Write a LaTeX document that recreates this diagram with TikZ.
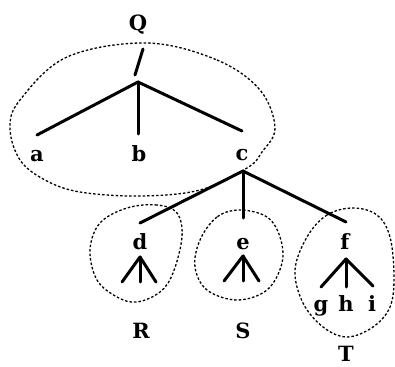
\documentclass[tikz,border=0pt]{standalone}
\usepackage{fontspec}
\newfontfamily\lblfamily{DejaVu Serif}
\begin{document}
\begin{tikzpicture}[x=1pt,y=-1pt,
  lbl/.style={font=\lblfamily\bfseries\fontsize{21}{21}\selectfont, inner sep=0pt, anchor=base},
  edge/.style={line width=3pt, line cap=round},
  blob/.style={line width=1.3pt, dash pattern=on 2.5pt off 2pt}]
\useasboundingbox (0,0) rectangle (395,366);
% labels
\node[lbl] (Q) at (138,31) {Q};
\node[lbl] (a) at (37,161) {a};
\node[lbl] (b) at (139,161) {b};
\node[lbl] (c) at (242,160) {c};
\node[lbl] (d) at (140,249) {d};
\node[lbl] (e) at (243,249) {e};
\node[lbl] (f) at (345,249) {f};
\node[lbl] (g) at (321,311) {g};
\node[lbl] (h) at (346,311) {h};
\node[lbl] (i) at (372,311) {i};
\node[lbl] (R) at (141,338) {R};
\node[lbl] (S) at (243,338) {S};
\node[lbl] (T) at (346,361) {T};
% coordinates
\coordinate (q1) at (143,49);
\coordinate (q2) at (135,75);
\coordinate (r0) at (138,82);
\coordinate (ea) at (37,135);
\coordinate (eb) at (138,134);
\coordinate (ec) at (242,131);
\coordinate (c0) at (243,171);
\coordinate (ed) at (140,223);
\coordinate (ee) at (243,218);
\coordinate (ef) at (346,222);
\coordinate (d0) at (140,257);
\coordinate (d1) at (122,282);
\coordinate (d2) at (140,282);
\coordinate (d3) at (156,282);
\coordinate (e0) at (243,256);
\coordinate (e1) at (224,281);
\coordinate (e2) at (243,281);
\coordinate (e3) at (259,281);
\coordinate (f0) at (346,259);
\coordinate (f1) at (321,287);
\coordinate (f2) at (346,287);
\coordinate (f3) at (373,286);
% edges
\draw[edge] (q1) -- (q2);
\draw[edge] (r0) -- (ea);
\draw[edge] (r0) -- (eb);
\draw[edge] (r0) -- (ec);
\draw[edge] (c0) -- (ed);
\draw[edge] (c0) -- (ee);
\draw[edge] (c0) -- (ef);
\draw[edge] (d0) -- (d1);
\draw[edge] (d0) -- (d2);
\draw[edge] (d0) -- (d3);
\draw[edge] (e0) -- (e1);
\draw[edge] (e0) -- (e2);
\draw[edge] (e0) -- (e3);
\draw[edge] (f0) -- (f1);
\draw[edge] (f0) -- (f2);
\draw[edge] (f0) -- (f3);
% dotted regions
\draw[blob] plot[smooth cycle, tension=0.6] coordinates {(147,43) (217,60) (260,90) (275,128) (262,152) (247,168) (200,190) (140,196) (80,192) (45,180) (20,160) (10,128) (20,100) (67,57)};
\draw[blob] plot[smooth cycle, tension=0.6] coordinates {(177,213) (157,205) (127,208) (100,223) (90,250) (97,280) (117,297) (137,302) (160,292) (173,273) (182,237)};
\draw[blob] plot[smooth cycle, tension=0.6] coordinates {(240,210) (217,217) (200,240) (195,267) (207,290) (237,300) (267,290) (282,263) (280,237) (267,217)};
\draw[blob] plot[smooth cycle, tension=0.6] coordinates {(353,208) (327,215) (307,237) (295,270) (303,303) (323,327) (347,337) (373,327) (390,307) (394,277) (390,237) (377,215)};
\end{tikzpicture}
\end{document}
